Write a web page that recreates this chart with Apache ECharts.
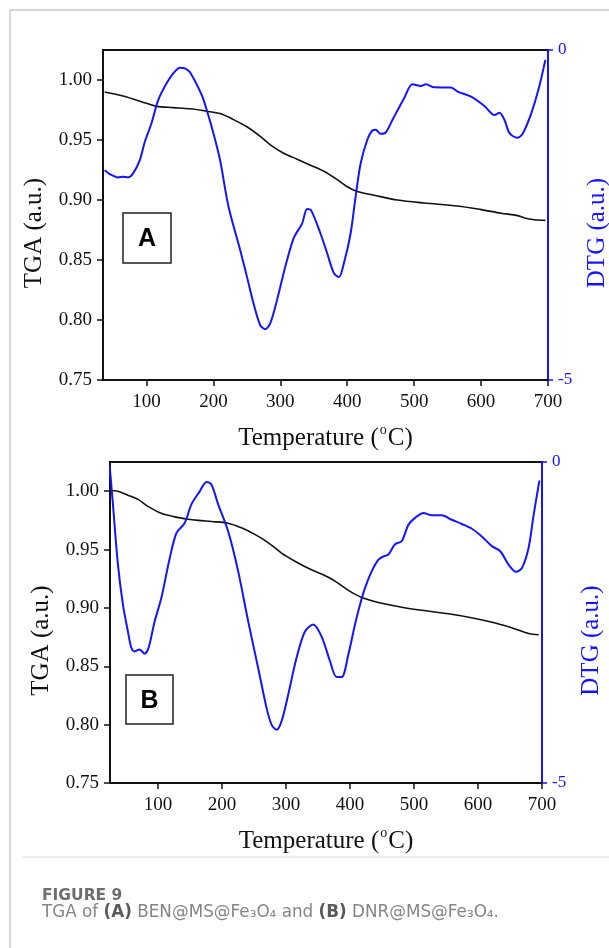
<!DOCTYPE html>
<html><head><meta charset="utf-8">
<script src="https://cdn.jsdelivr.net/npm/echarts@6/dist/echarts.min.js"></script>
<style>html,body{margin:0;padding:0;background:#fff}#c{width:609px;height:948px}</style>
</head><body><div id="c"></div>
<script>
// ---- Data ----
const xTicks = [100, 200, 300, 400, 500, 600, 700];
const tgaTicks = [0.75, 0.80, 0.85, 0.90, 0.95, 1.00];
const dtgTicks = [-5, 0];

// Panel A: BEN@MS@Fe3O4
const tempA_tga = [37.5,65,100,115,140,165,190,210,230,250,270,285,305,325,345,365,385,400,415,440,475,515,565,600,630,655,665,680,696];
const tgaA = [0.990,0.9867,0.9806,0.978,0.977,0.976,0.974,0.972,0.967,0.961,0.953,0.946,0.939,0.934,0.929,0.924,0.917,0.911,0.907,0.904,0.900,0.8975,0.895,0.892,0.889,0.887,0.885,0.8836,0.883];
const tempA_dtg = [37.5,45,57.5,65,72.5,80,90,97.5,107.5,117.5,130,140,150,157.5,165,182.5,190,200,210,222.5,240,250,260,270,277.5,285,295,307.5,320,332.5,340,346,360,370,380,387.5,395,405,412.5,420,430,437.5,442.5,450,457.5,467.5,485,497.5,510,517.5,530,555,565,585,605,620,627.5,635,642.5,654,662.5,675,687.5,696];
const dtgA = [-1.82,-1.88,-1.93,-1.92,-1.93,-1.87,-1.67,-1.39,-1.11,-0.76,-0.505,-0.354,-0.268,-0.278,-0.338,-0.682,-0.909,-1.26,-1.67,-2.37,-3.03,-3.43,-3.84,-4.17,-4.23,-4.14,-3.79,-3.28,-2.85,-2.63,-2.41,-2.43,-2.78,-3.08,-3.38,-3.44,-3.23,-2.78,-2.22,-1.72,-1.36,-1.22,-1.21,-1.27,-1.25,-1.06,-0.73,-0.52,-0.545,-0.52,-0.566,-0.57,-0.63,-0.707,-0.848,-0.985,-0.95,-1.06,-1.26,-1.33,-1.26,-0.96,-0.53,-0.15];

// Panel B: DNR@MS@Fe3O4
const tempB_tga = [24.4,37.4,53,68.7,84.3,105,126,147,162.6,183.5,209.6,230.4,251.3,272,293,314,334.8,355.7,376.5,397.4,418.3,449.6,480.9,512,554,595.7,627,658,679,694.8];
const tgaB = [1.0006,1.000,0.9966,0.993,0.987,0.981,0.978,0.976,0.975,0.974,0.9726,0.9686,0.963,0.956,0.947,0.940,0.934,0.929,0.923,0.915,0.909,0.904,0.9006,0.898,0.895,0.891,0.887,0.882,0.878,0.877];
const tempB_dtg = [24.4,29.6,37.4,45.2,53,58.3,63.5,71.3,79,85.4,94.8,105.2,118.3,128.7,141.7,152.2,165.2,175.7,183.5,194,209.6,225.2,240.9,256.5,269.6,277.4,285.2,293,303.5,316.5,329.6,342.6,355.7,368.7,379.1,387,397.4,407.8,415.7,423.5,434,444.5,452.3,460,470.4,480.9,491.3,501.7,514.8,527.8,543.5,559,574.8,590.4,606,621.7,634.8,647.8,659.3,668.7,679,687,695.9];
const dtgB = [-0.05,-0.66,-1.6,-2.22,-2.64,-2.89,-2.95,-2.92,-2.985,-2.89,-2.48,-2.12,-1.50,-1.11,-0.95,-0.66,-0.457,-0.31,-0.35,-0.66,-1.08,-1.70,-2.48,-3.21,-3.83,-4.09,-4.17,-4.04,-3.62,-3.05,-2.64,-2.53,-2.72,-3.10,-3.35,-3.35,-3.00,-2.53,-2.22,-1.96,-1.70,-1.52,-1.47,-1.44,-1.28,-1.23,-0.976,-0.87,-0.794,-0.83,-0.83,-0.90,-0.966,-1.04,-1.16,-1.31,-1.39,-1.60,-1.71,-1.65,-1.34,-0.82,-0.29];

const xMinA = 35, xMinB = 25, xMax = 700;
const tgaMin = 0.75, tgaMax = 1.025;
const dtgMin = -5, dtgMax = 0;

// ---- helpers ----
const pairs = (xs, ys) => xs.slice(0, Math.min(xs.length, ys.length)).map((x, i) => [x, ys[i]]);
const SERIF = '"Liberation Serif","Times New Roman",serif';
const BLUE = '#1414ff';

function xAxis(gi, min) {
  return {
    type: 'value', gridIndex: gi, min: min, max: xMax,
    name: '{n|Temperature (}{s|o}{n|C)}', nameLocation: 'middle', nameGap: 43,
    nameTextStyle: { rich: {
      n: { fontFamily: SERIF, fontSize: 25, color: '#111', lineHeight: 28, verticalAlign: 'bottom' },
      s: { fontFamily: SERIF, fontSize: 14, color: '#111', lineHeight: 28, verticalAlign: 'top', padding: [0, 1, 10, 1] }
    } },
    axisLine: { onZero: false, lineStyle: { color: '#111', width: 2 } },
    axisTick: { show: true, length: 6, customValues: xTicks, lineStyle: { color: '#111', width: 1.5 } },
    axisLabel: { customValues: xTicks, fontFamily: SERIF, fontSize: 19, color: '#111', margin: 13 },
    splitLine: { show: false }
  };
}
function tgaAxis(gi) {
  return {
    type: 'value', gridIndex: gi, position: 'left', min: tgaMin, max: tgaMax,
    name: 'TGA (a.u.)', nameLocation: 'middle', nameGap: 56, nameRotate: 90,
    nameTextStyle: { fontFamily: SERIF, fontSize: 25, color: '#111', padding: [0, 36, 0, 0] },
    axisLine: { show: true, lineStyle: { color: '#111', width: 2 } },
    axisTick: { show: true, length: 6, customValues: tgaTicks, lineStyle: { color: '#111', width: 1.5 } },
    axisLabel: { customValues: tgaTicks, fontFamily: SERIF, fontSize: 19, color: '#111', margin: 11,
      formatter: v => v.toFixed(2) },
    splitLine: { show: false }
  };
}
function dtgAxis(gi) {
  return {
    type: 'value', gridIndex: gi, position: 'right', min: dtgMin, max: dtgMax,
    name: 'DTG (a.u.)', nameLocation: 'middle', nameGap: 37, nameRotate: 90,
    nameTextStyle: { fontFamily: SERIF, fontSize: 25, color: BLUE, padding: [0, 36, 0, 0] },
    axisLine: { show: true, lineStyle: { color: BLUE, width: 2 } },
    axisTick: { show: true, length: 5, customValues: dtgTicks, lineStyle: { color: BLUE, width: 1.5 } },
    axisLabel: { customValues: dtgTicks, fontFamily: SERIF, fontSize: 17, color: BLUE, margin: 10 },
    splitLine: { show: false }
  };
}

const chart = echarts.init(document.getElementById('c'), null, { renderer: 'canvas' });
const option = {
  backgroundColor: '#fff',
  animation: false,
  grid: [
    { left: 103, top: 50, width: 445, height: 330, outerBoundsMode: 'none', containLabel: false,
      show: true, borderColor: '#111', borderWidth: 2, backgroundColor: 'transparent' },
    { left: 110, top: 462, width: 432, height: 321, outerBoundsMode: 'none', containLabel: false,
      show: true, borderColor: '#111', borderWidth: 2, backgroundColor: 'transparent' }
  ],
  xAxis: [xAxis(0, xMinA), xAxis(1, xMinB)],
  yAxis: [tgaAxis(0), dtgAxis(0), tgaAxis(1), dtgAxis(1)],
  series: [
    { type: 'line', xAxisIndex: 0, yAxisIndex: 0, data: pairs(tempA_tga, tgaA), showSymbol: false, smooth: 0.3,
      lineStyle: { color: '#111', width: 1.6 } },
    { type: 'line', xAxisIndex: 0, yAxisIndex: 1, data: pairs(tempA_dtg, dtgA), showSymbol: false, smooth: 0.3,
      lineStyle: { color: BLUE, width: 2 } },
    { type: 'line', xAxisIndex: 1, yAxisIndex: 2, data: pairs(tempB_tga, tgaB), showSymbol: false, smooth: 0.3,
      lineStyle: { color: '#111', width: 1.6 } },
    { type: 'line', xAxisIndex: 1, yAxisIndex: 3, data: pairs(tempB_dtg, dtgB), showSymbol: false, smooth: 0.3,
      lineStyle: { color: BLUE, width: 2 } }
  ],
  graphic: [
    // page frame
    { type: 'line', shape: { x1: 10, y1: 10, x2: 609, y2: 10 }, style: { stroke: '#c8c8c8', lineWidth: 1.5 } },
    { type: 'line', shape: { x1: 10, y1: 10, x2: 10, y2: 948 }, style: { stroke: '#c8c8c8', lineWidth: 1.5 } },
    { type: 'line', shape: { x1: 23, y1: 857, x2: 609, y2: 857 }, style: { stroke: '#e6e6e6', lineWidth: 1.5 } },
    // panel labels
    { type: 'rect', shape: { x: 123, y: 213, width: 48, height: 50 }, style: { fill: '#fff', stroke: '#222', lineWidth: 1.5 } },
    { type: 'text', x: 147, y: 239, style: { text: 'A', font: 'bold 25px "Liberation Sans", Arial, sans-serif', fill: '#000', align: 'center', verticalAlign: 'middle' } },
    { type: 'rect', shape: { x: 126, y: 675, width: 47, height: 49 }, style: { fill: '#fff', stroke: '#222', lineWidth: 1.5 } },
    { type: 'text', x: 149.5, y: 701, style: { text: 'B', font: 'bold 25px "Liberation Sans", Arial, sans-serif', fill: '#000', align: 'center', verticalAlign: 'middle' } },
    // caption
    { type: 'text', x: 42, y: 896, style: { text: 'FIGURE 9', font: 'bold 15.5px "DejaVu Sans",sans-serif', fill: '#6e6e6e', verticalAlign: 'middle' } },
    { type: 'text', x: 42, y: 913, style: {
        text: '{t|TGA of }{b|(A)}{t| BEN@MS@Fe₃O₄ and }{b|(B)}{t| DNR@MS@Fe₃O₄.}',
        verticalAlign: 'middle',
        rich: {
          t: { fontFamily: '"DejaVu Sans",sans-serif', fontSize: 16.8, fill: '#858585' },
          b: { fontFamily: '"DejaVu Sans",sans-serif', fontSize: 16.8, fontWeight: 'bold', fill: '#5a5a5a' }
        } } }
  ]
};
chart.setOption(option);
</script></body></html>
